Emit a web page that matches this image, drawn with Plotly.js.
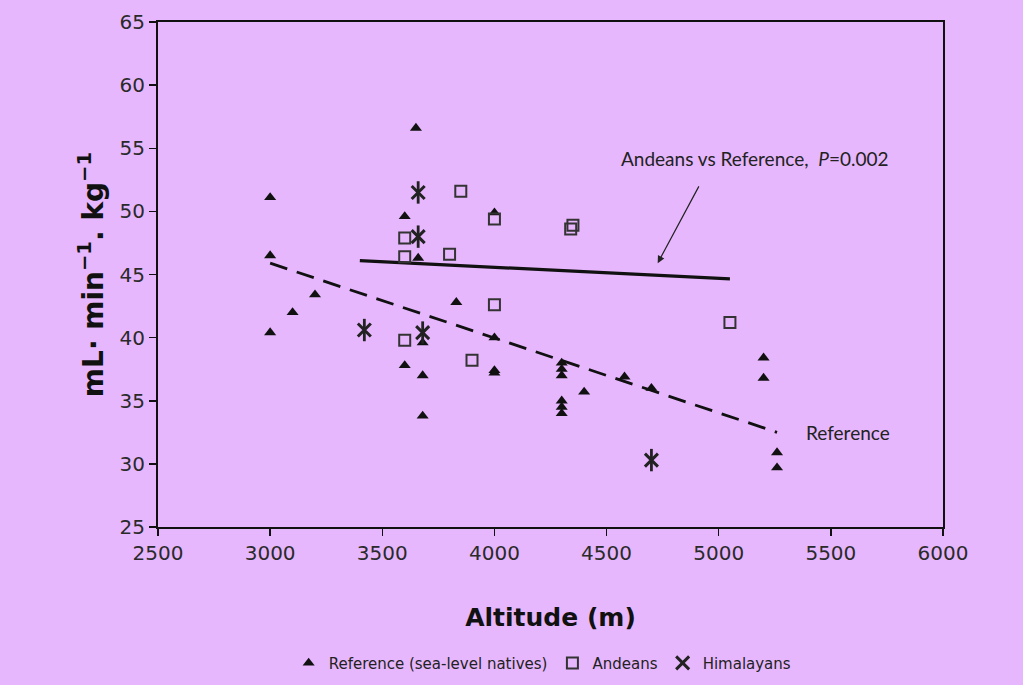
<!DOCTYPE html>
<html>
<head>
<meta charset="utf-8">
<script src="https://cdn.plot.ly/plotly-3.0.1.min.js"></script>
<style>
html,body{margin:0;padding:0;background:#E7B7FD;}
#chart{width:1023px;height:685px;}
</style>
</head>
<body>
<div id="chart"></div>
<script>
// Reference (sea-level natives)
const refX = [3000,3000,3000,3100,3200,3600,3600,3650,3660,3680,3680,3680,3830,4000,4000,4000,4000,4300,4300,4300,4300,4300,4300,4400,4580,4700,5200,5200,5260,5260];
const refY = [51.1,46.5,40.4,42.0,43.4,49.6,37.8,56.6,46.3,39.6,37.0,33.8,42.8,49.9,40.0,37.4,37.2,38.0,37.5,37.0,35.0,34.5,34.0,35.7,36.9,36.0,38.4,36.8,30.9,29.7];
// Andeans
const andX = [3600,3600,3600,3800,3850,3900,4000,4000,4340,4350,5050];
const andY = [47.9,46.4,39.8,46.6,51.6,38.2,49.4,42.6,48.6,48.9,41.2];
// Himalayans
const himX = [3420,3660,3660,3680,4700];
const himY = [40.6,51.5,48.0,40.4,30.3];
// Regression lines
const andLineX = [3400,5050];
const andLineY = [46.1,44.65];
const refLineX = [3000,5260];
const refLineY = [45.9,32.5];

const bg = '#E7B7FD';
const traces = [
  {x: refLineX, y: refLineY, mode:'lines', line:{color:'#111', width:2.8, dash:'18px,10px'}, showlegend:false, hoverinfo:'skip'},
  {x: andLineX, y: andLineY, mode:'lines', line:{color:'#111', width:3.2}, showlegend:false, hoverinfo:'skip'},
  {x: refX, y: refY, mode:'markers', name:'Reference (sea-level natives)',
   marker:{symbol:'triangle-up', size:10.5, color:'#111'}},
  {x: andX, y: andY, mode:'markers', name:'Andeans',
   marker:{symbol:'square-open', size:11, color:'#333', line:{width:2, color:'#333'}}},
  {x: himX, y: himY, mode:'markers', name:'Himalayans', legendgroup:'him',
   marker:{symbol:'x-thin-open', size:13, color:'#222', line:{width:3, color:'#222'}}},
  {x: himX, y: himY, mode:'markers', name:'Himalayans', legendgroup:'him', showlegend:false,
   marker:{symbol:'line-ns-open', size:16, color:'#222', line:{width:2.8, color:'#222'}}}
];

const layout = {
  width:1023, height:685,
  paper_bgcolor:bg, plot_bgcolor:bg,
  margin:{l:158, r:80, t:22, b:158, autoexpand:false},
  font:{family:'DejaVu Sans, Verdana, sans-serif', color:'#333'},
  xaxis:{
    range:[2500,6000], dtick:500, tick0:2500,
    showgrid:false, zeroline:false,
    showline:true, linecolor:'#111', linewidth:2, mirror:true,
    ticks:'outside', ticklen:7, tickwidth:1.5, tickcolor:'#111',
    tickfont:{size:20, color:'#2a2a2a'},
    title:{text:'<b>Altitude (m)</b>', font:{size:25, color:'#111', family:'DejaVu Sans, Verdana, sans-serif'}, standoff:44}
  },
  yaxis:{
    range:[25,65], dtick:5, tick0:25,
    showgrid:false, zeroline:false,
    showline:true, linecolor:'#111', linewidth:2, mirror:true,
    ticks:'outside', ticklen:7, tickwidth:1.5, tickcolor:'#111',
    tickfont:{size:20, color:'#2a2a2a'},
    title:{text:'<b>mL· min<sup>−1</sup>. kg<sup>−1</sup></b>', font:{size:28, color:'#111', family:'DejaVu Sans, Verdana, sans-serif'}, standoff:8}
  },
  legend:{
    orientation:'h', x:0.49, xanchor:'center', yref:'container', y:0.056, yanchor:'top',
    font:{size:15, color:'#222'}, bgcolor:'rgba(0,0,0,0)', itemwidth:30, tracegroupgap:0
  },
  annotations:[
    {x:5161, y:54.2, xref:'x', yref:'y', text:'Andeans vs Reference,  <i>P</i>=0.002', showarrow:false,
     font:{family:'Lato, Carlito, sans-serif', size:19, color:'#222'}},
    {x:4728, y:45.9, xref:'x', yref:'y', ax:4915, ay:52.1, axref:'x', ayref:'y', text:'', showarrow:true,
     arrowhead:2, arrowsize:1.2, arrowwidth:1.2, arrowcolor:'#222'},
    {x:5380, y:32.45, xref:'x', yref:'y', text:'Reference', showarrow:false, xanchor:'left',
     font:{family:'Lato, Carlito, sans-serif', size:19, color:'#222'}}
  ]
};

Plotly.newPlot('chart', traces, layout, {displayModeBar:false, staticPlot:true});
</script>
</body>
</html>
